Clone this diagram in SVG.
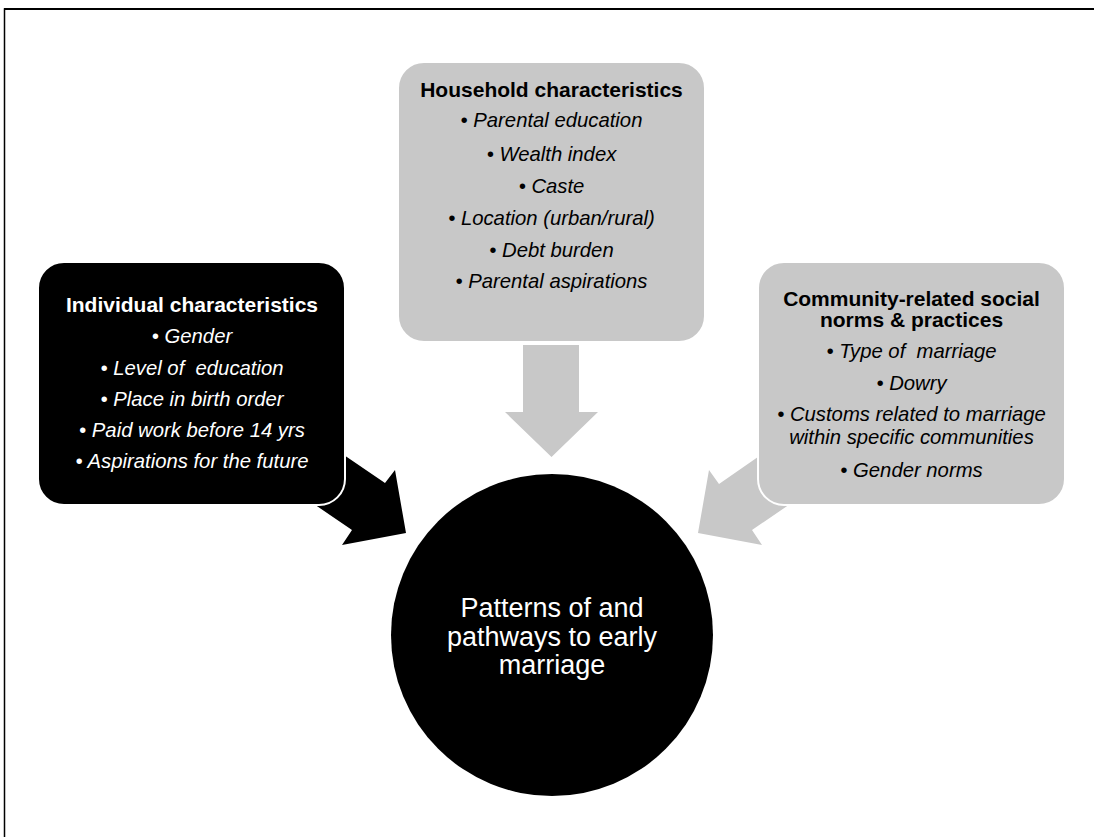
<svg xmlns="http://www.w3.org/2000/svg" width="1094" height="837" viewBox="0 0 1094 837">
<style>
.box-dark{fill:#000;stroke:#fff;stroke-width:2}
.box-grey{fill:#c8c8c8;stroke:#fff;stroke-width:2}
.t{font-family:"Liberation Sans",Arial,sans-serif;text-anchor:middle;white-space:pre}
.title{font-weight:bold;font-size:21px}
.item{font-style:italic;font-size:20.3px}
.w{fill:#fff}
.k{fill:#000}
.center{font-size:27px}
</style>
<rect width="1094" height="837" fill="#fff"/>
<path d="M4.5 837 V9 H1094" fill="none" stroke="#000" stroke-width="1.5"/>
<path d="M4 9 H1094" fill="none" stroke="#000" stroke-width="2"/>
<g id="connectors">
<polygon fill="#000" points="319,438 385,483 395,470 406,533 342,545 352,530 286,485"/>
<polygon fill="#c8c8c8" points="785,438 719,484 709,470 698,533 762,545 752,530 818,485"/>
<polygon fill="#c8c8c8" points="523,345 579,345 579,412 598,412 551.5,457 505,412 523,412"/>
</g>
<g id="individual">
<rect class="box-dark" x="38" y="262" width="307" height="243" rx="26"/>
<text class="t title w" x="192" y="312">Individual characteristics</text>
<text class="t item w" x="192" y="343">• Gender</text>
<text class="t item w" x="192" y="375" xml:space="preserve">• Level of  education</text>
<text class="t item w" x="192" y="406">• Place in birth order</text>
<text class="t item w" x="192" y="437">• Paid work before 14 yrs</text>
<text class="t item w" x="192" y="468">• Aspirations for the future</text>
</g>
<g id="household">
<rect class="box-grey" x="398" y="62" width="307" height="280" rx="26"/>
<text class="t title k" x="551.5" y="97">Household characteristics</text>
<text class="t item k" x="551.5" y="127">• Parental education</text>
<text class="t item k" x="551.5" y="161">• Wealth index</text>
<text class="t item k" x="551.5" y="193">• Caste</text>
<text class="t item k" x="551.5" y="225">• Location (urban/rural)</text>
<text class="t item k" x="551.5" y="257">• Debt burden</text>
<text class="t item k" x="551.5" y="288">• Parental aspirations</text>
</g>
<g id="community">
<rect class="box-grey" x="758" y="262" width="307" height="243" rx="26"/>
<text class="t title k" x="911.5" y="306">Community-related social</text>
<text class="t title k" x="911.5" y="327">norms &amp; practices</text>
<text class="t item k" x="911.5" y="358" xml:space="preserve">• Type of  marriage</text>
<text class="t item k" x="911.5" y="390">• Dowry</text>
<text class="t item k" x="911.5" y="421">• Customs related to marriage</text>
<text class="t item k" x="911.5" y="444">within specific communities</text>
<text class="t item k" x="911.5" y="477">• Gender norms</text>
</g>
<g id="outcome">
<circle cx="552" cy="635" r="161" fill="#000"/>
<text class="t center w" x="552" y="617">Patterns of and</text>
<text class="t center w" x="552" y="646">pathways to early</text>
<text class="t center w" x="552" y="674">marriage</text>
</g>
</svg>
